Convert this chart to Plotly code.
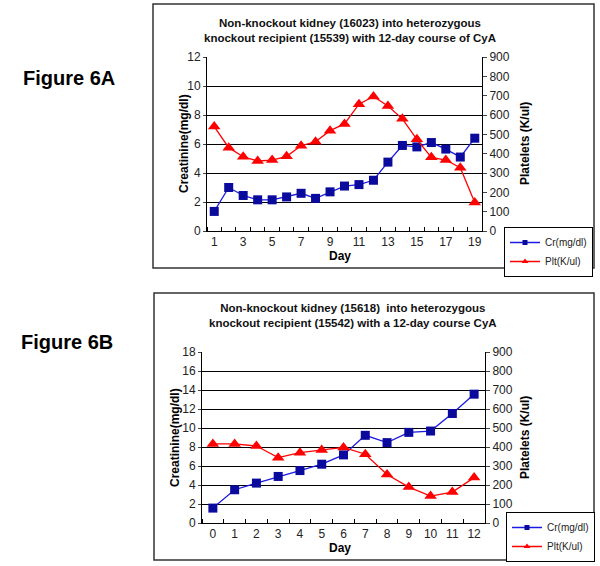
import plotly.graph_objects as go

# ---- Data: Figure 6A ----
days_a = list(range(1, 20))
cr_a = [1.35, 3.0, 2.45, 2.15, 2.15, 2.35, 2.6, 2.25, 2.7, 3.1, 3.2, 3.5, 4.75, 5.9, 5.8, 6.1, 5.65, 5.1, 6.4]
plt_a = [540, 431, 384, 362, 367, 386, 441, 462, 519, 554, 656, 696, 647, 580, 474, 381, 367, 327, 147]
xtick_a = [1, 3, 5, 7, 9, 11, 13, 15, 17, 19]

# ---- Data: Figure 6B ----
days_b = list(range(0, 13))
cr_b = [1.57, 3.5, 4.2, 4.9, 5.52, 6.19, 7.17, 9.23, 8.46, 9.54, 9.68, 11.53, 13.56]
plt_b = [416, 416, 405, 344, 370, 384, 398, 362, 255, 189, 142, 163, 239]
xtick_b = list(range(0, 13))

series_names = ["Cr(mg/dl)", "Plt(K/ul)"]
title_a = "Non-knockout kidney (16023) into heterozygous<br>knockout recipient (15539) with 12-day course of CyA"
title_b = "Non-knockout kidney (15618)  into heterozygous<br>knockout recipient (15542) with a 12-day course CyA"

W, H = 600, 566
FONT = "Liberation Sans, Arial, sans-serif"
BLUE_L = "#1a1ae0"
BLUE_M = "#0a0a9c"
RED = "#ff0000"


def py(p):
    return 1 - p / H


def px(p):
    return p / W


fig = go.Figure()


def add_pair(days, cr, plt, xa, ya, ya2, leg):
    fig.add_trace(go.Scatter(x=days, y=cr, name=series_names[0], mode="lines+markers",
                             line=dict(color=BLUE_L, width=1.3),
                             marker=dict(symbol="square", size=9, color=BLUE_M),
                             xaxis=xa, yaxis=ya, showlegend=False))
    fig.add_trace(go.Scatter(x=days, y=plt, name=series_names[1], mode="lines+markers",
                             line=dict(color=RED, width=1.3),
                             marker=dict(symbol="triangle-up", size=11, color=RED),
                             xaxis=xa, yaxis=ya2, showlegend=False))
    # legend-only entries with compact symbols
    fig.add_trace(go.Scatter(x=[None], y=[None], name=series_names[0], mode="lines+markers",
                             line=dict(color=BLUE_L, width=1.5),
                             marker=dict(symbol="square", size=5, color=BLUE_M),
                             xaxis=xa, yaxis=ya, legend=leg, showlegend=True, hoverinfo="skip"))
    fig.add_trace(go.Scatter(x=[None], y=[None], name=series_names[1], mode="lines+markers",
                             line=dict(color=RED, width=1.5),
                             marker=dict(symbol="triangle-up", size=6, color=RED),
                             xaxis=xa, yaxis=ya2, legend=leg, showlegend=True, hoverinfo="skip"))


add_pair(days_a, cr_a, plt_a, "x", "y", "y2", "legend")
add_pair(days_b, cr_b, plt_b, "x3", "y3", "y4", "legend2")

tickfont = dict(family=FONT, size=12, color="#222")
axcommon = dict(showline=True, linecolor="black", linewidth=1, tickfont=tickfont,
                zeroline=False, fixedrange=True, automargin=False)

dom_ax = [px(207), px(482)]
dom_ay = [py(231), py(57)]
dom_bx = [px(202), px(485)]
dom_by = [py(523), py(352)]

legcommon = dict(xanchor="left", yanchor="top", bordercolor="black", borderwidth=1,
                 bgcolor="white", font=dict(family=FONT, size=10, color="#222"),
                 itemwidth=30, tracegroupgap=0)

fig.update_layout(
    width=W, height=H,
    margin=dict(l=0, r=0, t=0, b=0, autoexpand=False),
    paper_bgcolor="white", plot_bgcolor="white",
    font=dict(family=FONT, color="black"),
    xaxis=dict(domain=dom_ax, anchor="y", range=[0.5, 19.5], tickmode="array", tickvals=xtick_a,
               ticks="", showgrid=False,
               minor=dict(tickmode="linear", tick0=0.5, dtick=1, ticks="inside", ticklen=4,
                          tickcolor="black", showgrid=False),
               **axcommon),
    yaxis=dict(domain=dom_ay, anchor="x", range=[0, 12], dtick=2, ticks="outside", ticklen=3,
               showgrid=True, gridcolor="black", gridwidth=1, **axcommon),
    yaxis2=dict(domain=dom_ay, anchor="x", overlaying="y", side="right", range=[0, 900], dtick=100,
                ticks="outside", ticklen=4, showgrid=False, **axcommon),
    xaxis3=dict(domain=dom_bx, anchor="y3", range=[-0.5, 12.5], tickmode="array", tickvals=xtick_b,
                ticks="", showgrid=False,
                minor=dict(tickmode="linear", tick0=-0.5, dtick=1, ticks="inside", ticklen=4,
                           tickcolor="black", showgrid=False),
                **axcommon),
    yaxis3=dict(domain=dom_by, anchor="x3", range=[0, 18], dtick=2, ticks="outside", ticklen=3,
                showgrid=True, gridcolor="black", gridwidth=1, **axcommon),
    yaxis4=dict(domain=dom_by, anchor="x3", overlaying="y3", side="right", range=[0, 900], dtick=100,
                ticks="outside", ticklen=4, showgrid=False, **axcommon),
    legend=dict(x=px(504), y=py(227), **legcommon),
    legend2=dict(x=px(506), y=py(512), **legcommon),
    showlegend=True,
)

shapes = [
    dict(type="rect", xref="paper", yref="paper", x0=px(153), x1=px(594), y0=py(268), y1=py(4),
         line=dict(color="#333", width=1.5), fillcolor="rgba(0,0,0,0)", layer="below"),
    dict(type="rect", xref="paper", yref="paper", x0=px(154), x1=px(594), y0=py(560), y1=py(293),
         line=dict(color="#333", width=1.5), fillcolor="rgba(0,0,0,0)", layer="below"),
]
fig.update_layout(shapes=shapes)

bold = dict(family=FONT, size=12, color="black")
ann = [
    dict(text="<b>" + title_a.replace("<br>", "</b><br><b>") + "</b>", x=px(350), y=py(30),
         font=dict(family=FONT, size=11.5, color="#111")),
    dict(text="<b>" + title_b.replace("<br>", "</b><br><b>") + "</b>", x=px(353), y=py(315),
         font=dict(family=FONT, size=11.5, color="#111")),
    dict(text="<b>Creatinine(mg/dl)</b>", x=px(184), y=py(144), textangle=-90, font=bold),
    dict(text="<b>Platelets (K/ul)</b>", x=px(525), y=py(144), textangle=-90, font=bold),
    dict(text="<b>Day</b>", x=px(340), y=py(256), font=bold),
    dict(text="<b>Creatinine(mg/dl)</b>", x=px(175), y=py(438), textangle=-90, font=bold),
    dict(text="<b>Platelets (K/ul)</b>", x=px(525), y=py(438), textangle=-90, font=bold),
    dict(text="<b>Day</b>", x=px(340), y=py(548), font=bold),
    dict(text="<b>Figure 6A</b>", x=px(69), y=py(78), font=dict(family=FONT, size=20, color="black")),
    dict(text="<b>Figure 6B</b>", x=px(67), y=py(342), font=dict(family=FONT, size=20, color="black")),
]
for a in ann:
    a.update(xref="paper", yref="paper", showarrow=False, xanchor="center", yanchor="middle")
fig.update_layout(annotations=ann)

fig.write_html("out.html", config={"displayModeBar": False},
               post_script="document.body.style.margin='0';document.body.style.overflow='hidden';")
